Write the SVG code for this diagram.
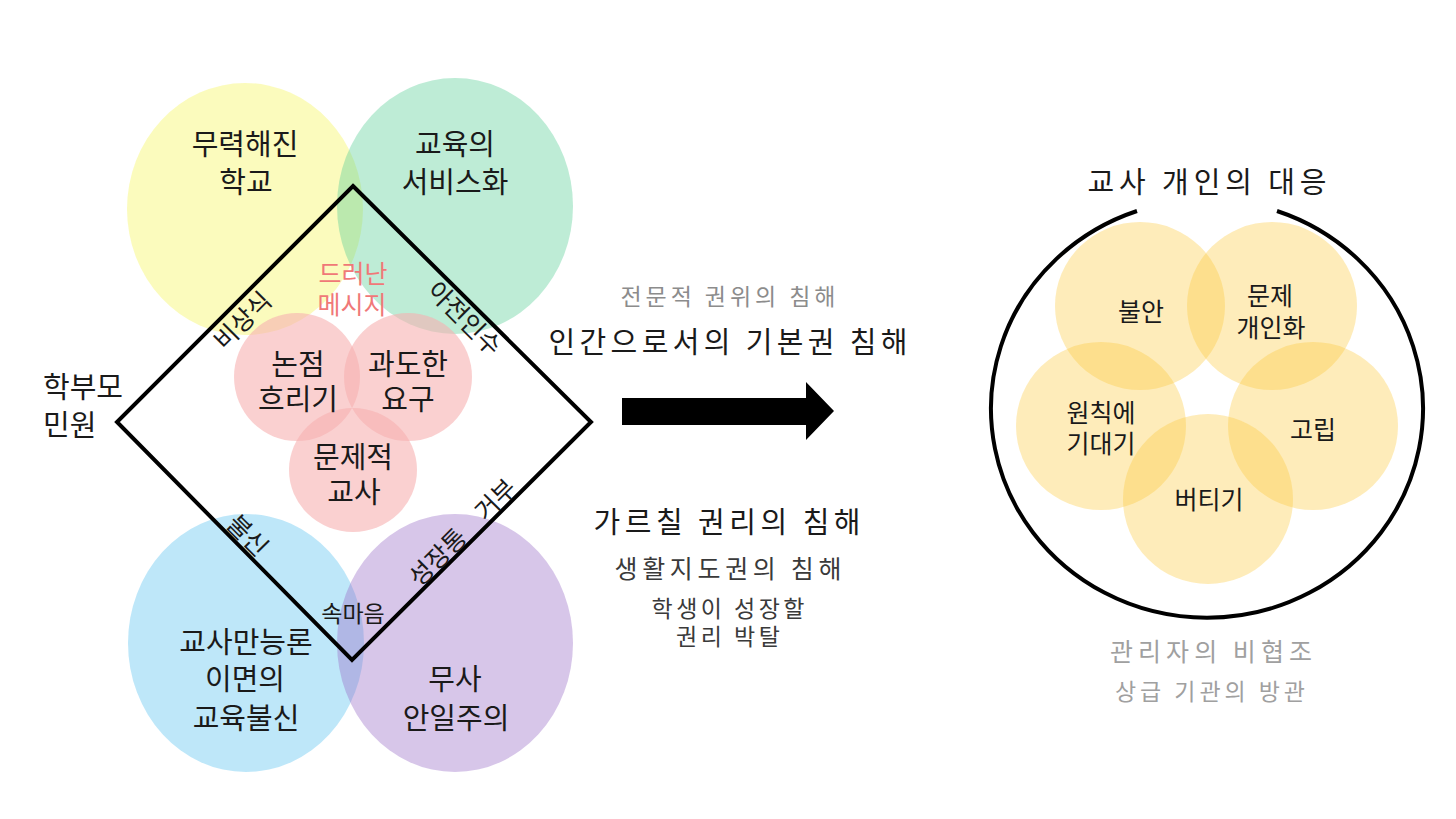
<svg xmlns="http://www.w3.org/2000/svg" width="1456" height="819" viewBox="0 0 1456 819">
<style>
text{font-family:"Noto Sans CJK KR","Noto Sans",sans-serif;fill:#1a1a1a;text-anchor:middle;dominant-baseline:central}
.big{font-size:29px}
.mid{font-size:25px}
.sm{font-size:23px}
.edge{font-size:25px}
.gray{fill:#8c8c8c}
.lgray{fill:#a0a0a0}
.dk{fill:#3a3a3a}
.pinkt{fill:#f07878}
.yel{fill:#f6f65a;fill-opacity:.4}
.grn{fill:#5ccf98;fill-opacity:.4}
.blu{fill:#5cc4ef;fill-opacity:.4}
.pur{fill:#9c70c8;fill-opacity:.4}
.pnk{fill:#f7b0b0;fill-opacity:.6}
.gold{fill:#fcc93a;fill-opacity:.35}
.line{fill:none;stroke:#000;stroke-width:4}
</style>
<rect width="1456" height="819" fill="#fff"/>

<g id="circle-school"><ellipse class="yel" cx="245" cy="209" rx="118" ry="126"/></g>
<g id="circle-service"><ellipse class="grn" cx="455" cy="206" rx="118" ry="128"/></g>
<g id="circle-distrust"><ellipse class="blu" cx="246" cy="643" rx="118" ry="129"/></g>
<g id="circle-complacency"><ellipse class="pur" cx="455" cy="643" rx="118" ry="129"/></g>
<g id="circle-blur"><ellipse class="pnk" cx="297" cy="377" rx="63" ry="64"/></g>
<g id="circle-demand"><ellipse class="pnk" cx="408" cy="377" rx="64" ry="64"/></g>
<g id="circle-problem-teacher"><ellipse class="pnk" cx="353" cy="470" rx="64" ry="62"/></g>

<g id="connectors">
<polygon class="line" points="353,186 591,422 352,660 117,422"/>
<polygon points="622,398 806,398 806,382 834,411 806,440 806,425 622,425" fill="#000"/>
<path class="line" d="M1277,211 A216,209 0 1 1 1137,211"/>
</g>

<g id="labels-left">
<text class="big" x="245" y="142">무력해진</text>
<text class="big" x="246" y="180">학교</text>
<text class="big" x="455" y="142">교육의</text>
<text class="big" x="455" y="180">서비스화</text>
<text class="mid pinkt" x="353" y="272">드러난</text>
<text class="mid pinkt" x="352" y="303">메시지</text>
<text class="big" x="298" y="362">논점</text>
<text class="big" x="298" y="397">흐리기</text>
<text class="big" x="408" y="362">과도한</text>
<text class="big" x="408" y="397">요구</text>
<text class="big" x="353" y="455">문제적</text>
<text class="big" x="354" y="490">교사</text>
<text class="big" x="43" y="385" style="text-anchor:start">학부모</text>
<text class="big" x="43" y="423" style="text-anchor:start">민원</text>
<text class="big" x="246" y="640">교사만능론</text>
<text class="big" x="245" y="677">이면의</text>
<text class="big" x="246" y="716">교육불신</text>
<text class="big" x="455" y="677">무사</text>
<text class="big" x="456" y="716">안일주의</text>
<text class="sm" x="353" y="612">속마음</text>
<text class="edge" transform="translate(241,319) rotate(-45)">비상식</text>
<text class="edge" transform="translate(466,317) rotate(45)">아전인수</text>
<text class="edge" transform="translate(249,534) rotate(45)">불신</text>
<text class="edge" transform="translate(461,531) rotate(-45)">성장통<tspan dx="24">거부</tspan></text>
</g>

<g id="labels-middle">
<text class="sm gray" x="728" y="295" textLength="215" lengthAdjust="spacing">전문적 권위의 침해</text>
<text class="big" x="728" y="340" textLength="359" lengthAdjust="spacing">인간으로서의 기본권 침해</text>
<text class="big" x="727" y="520" textLength="267" lengthAdjust="spacing">가르칠 권리의 침해</text>
<text class="mid dk" x="728" y="567" textLength="227" lengthAdjust="spacing">생활지도권의 침해</text>
<text class="sm dk" x="728" y="607" textLength="153" lengthAdjust="spacing">학생이 성장할</text>
<text class="sm dk" x="728" y="635" textLength="104" lengthAdjust="spacing">권리 박탈</text>
</g>

<g id="circle-anxiety"><ellipse class="gold" cx="1140" cy="306" rx="85" ry="84"/></g>
<g id="circle-individualize"><ellipse class="gold" cx="1272" cy="306" rx="85" ry="84"/></g>
<g id="circle-principle"><ellipse class="gold" cx="1101" cy="426" rx="85" ry="84"/></g>
<g id="circle-isolation"><ellipse class="gold" cx="1313" cy="426" rx="85" ry="84"/></g>
<g id="circle-endure"><ellipse class="gold" cx="1208" cy="499" rx="85" ry="85"/></g>

<g id="labels-right">
<text class="big" x="1207" y="180" textLength="239" lengthAdjust="spacing">교사 개인의 대응</text>
<text class="mid" x="1141" y="310">불안</text>
<text class="mid" x="1270" y="294">문제</text>
<text class="mid" x="1271" y="326">개인화</text>
<text class="mid" x="1101" y="411">원칙에</text>
<text class="mid" x="1101" y="442">기대기</text>
<text class="mid" x="1313" y="428">고립</text>
<text class="mid" x="1209" y="498">버티기</text>
<text class="mid lgray" x="1211" y="650" textLength="202" lengthAdjust="spacing">관리자의 비협조</text>
<text class="sm lgray" x="1210" y="690" textLength="190" lengthAdjust="spacing">상급 기관의 방관</text>
</g>
</svg>
